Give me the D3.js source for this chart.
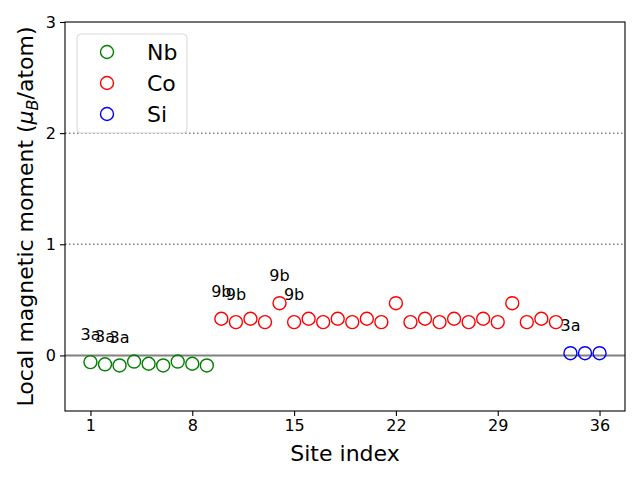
<!DOCTYPE html>
<html>
<head>
<meta charset="utf-8">
<script src="https://cdn.jsdelivr.net/npm/d3@7"></script>
<style>
  body { margin: 0; background: #fff; }
  text { font-family: "DejaVu Sans", sans-serif; }
</style>
</head>
<body>
<div id="chart"></div>
<script>
// Site indices and local moments for each element
const nbSites = [1, 2, 3, 4, 5, 6, 7, 8, 9];
const nbMoments = [-0.06, -0.08, -0.09, -0.055, -0.075, -0.09, -0.055, -0.075, -0.09];
const coSites = [10, 11, 12, 13, 14, 15, 16, 17, 18, 19, 20, 21, 22, 23, 24, 25, 26, 27, 28, 29, 30, 31, 32, 33];
const coMoments = [0.33, 0.30, 0.33, 0.30, 0.47, 0.30, 0.33, 0.30, 0.33, 0.30, 0.33, 0.30,
                   0.47, 0.30, 0.33, 0.30, 0.33, 0.30, 0.33, 0.30, 0.47, 0.30, 0.33, 0.30];
const siSites = [34, 35, 36];
const siMoments = [0.02, 0.02, 0.02];

// Wyckoff labels drawn above some sites
const labelSites = [1, 2, 3, 10, 11, 14, 15, 34];
const labelTexts = ["3a", "3a", "3a", "9b", "9b", "9b", "9b", "3a"];

const xTicks = [1, 8, 15, 22, 29, 36];
const yTicks = [0, 1, 2, 3];
const dottedLevels = [1, 2];

const series = [
  { name: "Nb", color: "green", sites: nbSites, values: nbMoments },
  { name: "Co", color: "red", sites: coSites, values: coMoments },
  { name: "Si", color: "blue", sites: siSites, values: siMoments }
];

const allSites = nbSites.concat(coSites, siSites);
const allValues = nbMoments.concat(coMoments, siMoments);

const margin = { top: 22, right: 15, bottom: 69, left: 65 };
const width = 640 - margin.left - margin.right;
const height = 480 - margin.top - margin.bottom;

const x = d3.scaleLinear().domain([-0.75, 37.75]).range([0, width]);
const y = d3.scaleLinear().domain([-0.5, 3]).range([height, 0]);

const svg = d3.select("#chart")
  .append("svg")
    .attr("width", 640)
    .attr("height", 480);

const g = svg.append("g")
    .attr("transform", `translate(${margin.left},${margin.top})`);

// Reference lines
g.selectAll(null)
  .data(dottedLevels)
  .enter().append("line")
    .attr("x1", 0).attr("x2", width)
    .attr("y1", d => y(d)).attr("y2", d => y(d))
    .attr("stroke", "#808080")
    .attr("stroke-width", 1.5)
    .attr("stroke-dasharray", "1.5,2.5");

g.append("line")
    .attr("x1", 0).attr("x2", width)
    .attr("y1", y(0)).attr("y2", y(0))
    .attr("stroke", "#808080")
    .attr("stroke-width", 2);

// Scatter points
series.forEach(s => {
  g.selectAll(null)
    .data(s.sites.map((site, i) => ({ site: site, v: s.values[i] })))
    .enter().append("circle")
      .attr("cx", d => x(d.site))
      .attr("cy", d => y(d.v))
      .attr("r", 6.5)
      .attr("fill", "none")
      .attr("stroke", s.color)
      .attr("stroke-width", 1.4);
});

// Site labels
g.selectAll(null)
  .data(labelSites.map((site, i) => ({ site: site, text: labelTexts[i], v: allValues[allSites.indexOf(site)] })))
  .enter().append("text")
    .attr("x", d => x(d.site))
    .attr("y", d => y(d.v + 0.25))
    .attr("dy", "0.35em")
    .attr("text-anchor", "middle")
    .style("font-size", "16px")
    .text(d => d.text);

// Axes
const xAxis = g.append("g")
    .attr("transform", `translate(0,${height})`)
    .call(d3.axisBottom(x).tickValues(xTicks).tickFormat(d3.format("d")).tickSize(5).tickPadding(4));
const yAxis = g.append("g")
    .call(d3.axisLeft(y).tickValues(yTicks).tickFormat(d3.format("d")).tickSize(5).tickPadding(4));

[xAxis, yAxis].forEach(a => {
  a.select(".domain").remove();
  a.selectAll("line").attr("stroke", "#000").attr("stroke-width", 1.1);
  a.selectAll("text").style("font-size", "16px").style("font-family", "DejaVu Sans").attr("fill", "#000");
});

// Frame
g.append("rect")
    .attr("width", width).attr("height", height)
    .attr("fill", "none")
    .attr("stroke", "#000")
    .attr("stroke-width", 1.1);

// Axis labels
svg.append("text")
    .attr("x", margin.left + width / 2)
    .attr("y", 461)
    .attr("text-anchor", "middle")
    .style("font-size", "22px")
    .text("Site index");

const yl = svg.append("text")
    .attr("transform", `translate(33,${margin.top + height / 2}) rotate(-90)`)
    .attr("text-anchor", "middle")
    .style("font-size", "22px");
yl.append("tspan").text("Local magnetic moment (");
yl.append("tspan").style("font-style", "italic").text("μ");
yl.append("tspan").style("font-style", "italic").style("font-size", "16px").attr("dy", "5").text("B");
yl.append("tspan").attr("dy", "-5").text("/atom)");

// Legend
const legend = svg.append("g").attr("transform", "translate(77,34)");
legend.append("rect")
    .attr("width", 110).attr("height", 99)
    .attr("rx", 4)
    .attr("fill", "#fff").attr("fill-opacity", 0.8)
    .attr("stroke", "#d9d9d9");
series.forEach((s, i) => {
  legend.append("circle")
    .attr("cx", 30).attr("cy", 18 + i * 31)
    .attr("r", 6.5)
    .attr("fill", "none")
    .attr("stroke", s.color)
    .attr("stroke-width", 1.4);
  legend.append("text")
    .attr("x", 70).attr("y", 18 + i * 31)
    .attr("dy", "0.35em")
    .style("font-size", "22px")
    .text(s.name);
});
</script>
</body>
</html>
